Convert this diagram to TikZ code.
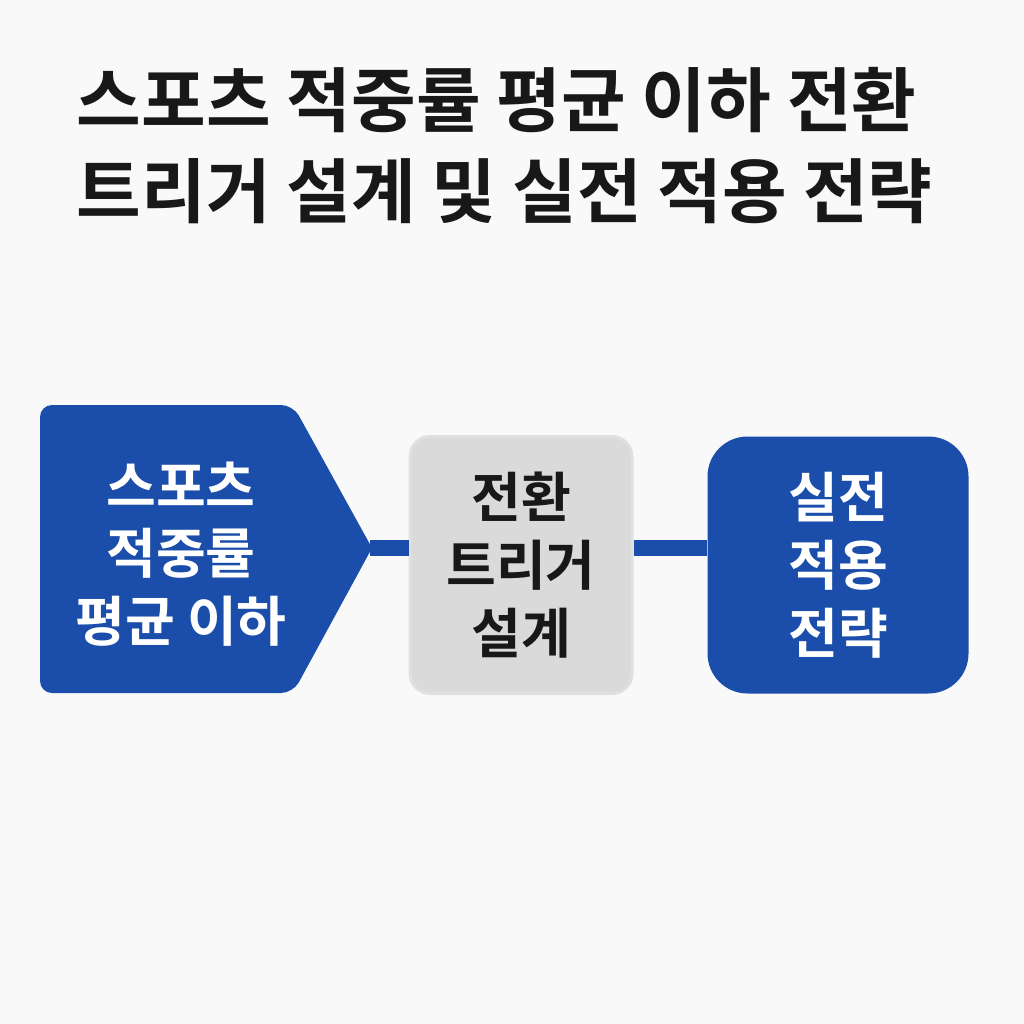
\documentclass[tikz,border=0pt]{standalone}
\usepackage{fontspec}
\setmainfont{Noto Sans CJK KR}[BoldFont={Noto Sans CJK KR Bold}]
\usetikzlibrary{positioning,calc}
\definecolor{stepblue}{RGB}{27,78,170}
\definecolor{stepgray}{RGB}{218,218,218}
\definecolor{pagebg}{RGB}{249,249,249}
\definecolor{inkdark}{RGB}{24,24,24}
\tikzset{
	boxtext/.style={align=center,font=\fontsize{15.4}{19.3}\selectfont\bfseries},
	bluebox/.style={boxtext,fill=stepblue,text=white,minimum width=26.1mm,minimum height=25.7mm,rounded corners=4mm},
	graybox/.style={boxtext,fill=stepgray,draw=black!12,line width=0.3mm,text=inkdark,minimum width=22.2mm,minimum height=25.7mm,rounded corners=2mm},
	link/.style={draw=stepblue,line width=1.6mm}
}
\begin{document}
\begin{tikzpicture}[x=0.1mm,y=-0.1mm]
	% page
	\fill[pagebg] (0,0) rectangle (1024,1024);
	\useasboundingbox (0,0) rectangle (1024,1024);

	% title
	\node[anchor=west,align=left,inner sep=0pt,text=inkdark,font=\fontsize{20}{25.9}\selectfont\bfseries] (title) at (76,146)
		{스포츠 적중률 평균 이하 전환\\트리거 설계 및 실전 적용 전략};

	% arrow shaped first step
	\fill[stepblue,rounded corners=1.2mm] (40,405) -- (293,405) [sharp corners] -- (372,548) [rounded corners=1.2mm] -- (293,693) -- (40,693) -- cycle;
	\coordinate (tip) at (370,548);
	\node[boxtext,text=white] (sports) at (181,554) {스포츠\\적중률\\평균 이하};

	% second and third step
	\node[graybox] (switch) at (521,565) {전환\\트리거\\설계};
	\node[bluebox] (apply) at (838,565) {실전\\적용\\전략};

	% links
	\draw[link] (tip) -- (switch.west |- tip);
	\draw[link] (switch.east |- tip) -- (apply.west |- tip);
\end{tikzpicture}
\end{document}
